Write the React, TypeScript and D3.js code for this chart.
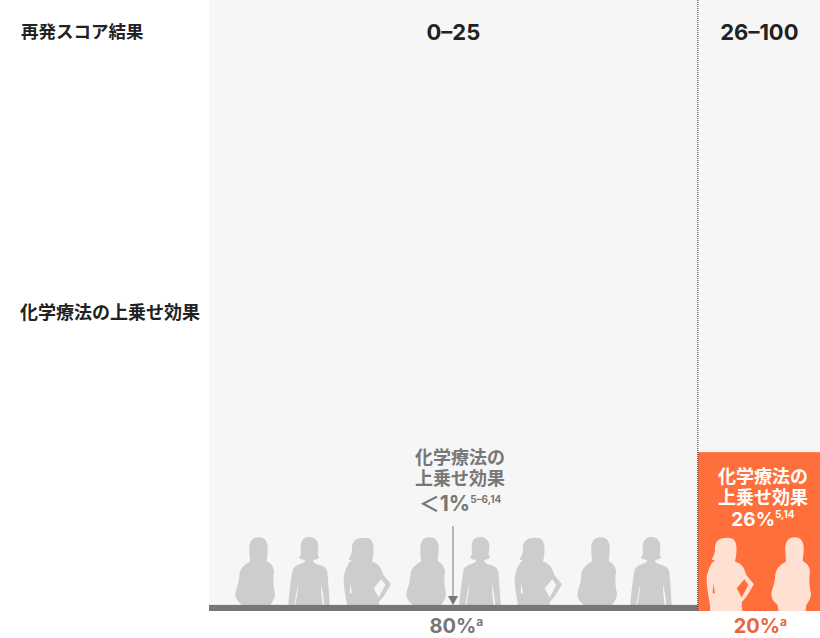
import React from 'react';
import * as d3 from 'd3';

const WIDTH = 820;
const HEIGHT = 638;

// recurrence score groups
const scoreGroups = ['0–25', '26–100'];
const patientShare = [80, 20];
const chemoBenefit = [1, 26];
const shareLabels = ['80%', '20%'];
const benefitValueLabels = ['＜1%', '26%'];
const benefitRefs = ['5–6,14', '5,14'];
const benefitLines = ['化学療法の', '上乗せ効果'];
const rowLabels = ['再発スコア結果', '化学療法の上乗せ効果'];

const leftPeople = ['heavy', 'bob', 'hip', 'heavy', 'bob', 'hip', 'heavy', 'bob'];
const rightPeople = ['hip', 'heavy'];

// silhouettes, origin at feet centre, drawn at 3x and scaled down
const silhouettes: Record<string, string> = {
  heavy:
    'M-38,18 L-40,0 C-52,-10 -59,-20 -59,-33 C-57,-50 -49,-60 -47,-90 C-45,-110 -32,-120 -15,-130 L-17,-160 C-19,-185 -12,-203 11,-203 C33,-203 40,-185 38,-160 L35,-132 C48,-125 56,-115 57,-100 C55,-80 53,-65 60,-35 C60,-20 53,-10 46,0 L44,18 Z',
  bob:
    'M-62,18 L-62,0 C-60,-30 -55,-70 -50,-100 C-48,-112 -40,-118 -22,-124 L-14,-128 L-12,-135 C-20,-135 -28,-137 -30,-142 C-20,-150 -26,-168 -25,-178 C-24,-195 -14,-204 1,-204 C16,-204 27,-195 28,-178 C29,-165 22,-150 31,-142 C25,-137 18,-135 12,-135 L14,-128 L24,-122 C42,-118 52,-112 55,-100 C58,-70 60,-30 62,0 L62,18 L50,18 L46,0 C44,-20 42,-40 36,-62 C36,-30 40,-10 44,18 L-44,18 C-40,-10 -34,-30 -32,-62 C-38,-40 -40,-20 -44,0 L-48,18 Z',
  hip:
    'M-60,18 L-60,0 C-62,-15 -68,-40 -70,-70 C-70,-90 -66,-105 -55,-125 L-45,-135 L-55,-135 C-50,-145 -48,-150 -45,-160 C-45,-170 -47,-185 -35,-195 C-25,-202 -5,-203 5,-200 C20,-195 22,-170 18,-145 L15,-130 C30,-125 42,-115 45,-100 L50,-88 L72,-62 L50,-25 L35,-8 L37,18 Z M20,-50 L43,-77 L55,-60 L35,-22 Z M-50,-65 L-45,-35 L-52,-35 Z',
};

const nudge: Record<string, number> = { heavy: 0, bob: -3, hip: -2 };

const FONT = "'Noto Sans CJK JP', sans-serif";
const NUM_FONT = "Inter, 'Noto Sans CJK JP', sans-serif";

export default function App() {
  const cum = d3.cumsum(patientShare);
  const x = d3.scaleLinear().domain([0, 100]).range([209, WIDTH]);
  const y = d3.scaleLinear().domain([0, 100]).range([611, 0]);

  const leftSlot = d3.scaleLinear().domain([0, 7]).range([255, 654]);
  const rightSlot = d3.scaleLinear().domain([0, 1]).range([730, 791]);

  const split = x(cum[0]);
  const centers = [x(cum[0] / 2), (split + WIDTH) / 2 + 0.5];

  return (
    <svg
      width={WIDTH}
      height={HEIGHT}
      viewBox={`0 0 ${WIDTH} ${HEIGHT}`}
      style={{ position: 'absolute', left: 0, top: 0, background: '#fff' }}
    >
      <rect x={x(0)} y={0} width={x(100) - x(0)} height={y(chemoBenefit[0])} fill="#f6f6f6" />
      <rect
        x={split}
        y={y(chemoBenefit[1])}
        width={WIDTH - split}
        height={y(0) - y(chemoBenefit[1])}
        fill="#ff6f3b"
      />

      {leftPeople.map((p, i) => (
        <path
          key={i}
          d={silhouettes[p]}
          fill="#cdcdcc"
          fillRule="evenodd"
          transform={`translate(${leftSlot(i) + nudge[p]},${y(chemoBenefit[0])}) scale(${1 / 3})`}
        />
      ))}
      {rightPeople.map((p, i) => (
        <path
          key={i}
          d={silhouettes[p]}
          fill="#ffe0d3"
          fillRule="evenodd"
          transform={`translate(${rightSlot(i)},${y(chemoBenefit[0])}) scale(${1 / 3})`}
        />
      ))}

      <rect x={x(0)} y={y(chemoBenefit[0])} width={split - x(0)} height={y(0) - y(chemoBenefit[0])} fill="#777777" />

      <line x1={split} x2={split} y1={0} y2={y(0)} stroke="#333" strokeWidth={1} strokeDasharray="1 1" />

      {/* arrow */}
      <line x1={453} x2={453} y1={526} y2={598} stroke="#777" strokeWidth={1} />
      <path d="M448,596 L458,596 L453,605 Z" fill="#777" />

      {/* row labels */}
      <text x={21} y={38} fontFamily={FONT} fontWeight={700} fontSize={17.5} fill="#222">
        {rowLabels[0]}
      </text>
      <text x={20} y={319} fontFamily={FONT} fontWeight={700} fontSize={18} fill="#222">
        {rowLabels[1]}
      </text>

      {/* group headers */}
      {scoreGroups.map((g, i) => (
        <text key={g} x={centers[i]} y={40} textAnchor="middle" fontFamily={NUM_FONT} fontWeight={700} fontSize={22} fill="#222">
          {g}
        </text>
      ))}

      {/* benefit callouts */}
      <text textAnchor="middle" fontFamily={FONT} fontWeight={700} fontSize={18} fill="#777">
        {benefitLines.map((t, i) => (
          <tspan key={t} x={460} y={464 + i * 21}>{t}</tspan>
        ))}
        <tspan x={460} y={511} fontFamily={NUM_FONT} fontSize={21}>{benefitValueLabels[0]}</tspan>
        <tspan fontSize={10} dy={-8} fontFamily={NUM_FONT}>{benefitRefs[0]}</tspan>
      </text>

      <text textAnchor="middle" fontFamily={FONT} fontWeight={700} fontSize={18} fill="#fff">
        {benefitLines.map((t, i) => (
          <tspan key={t} x={763} y={483 + i * 21}>{t}</tspan>
        ))}
        <tspan x={763} y={526} fontFamily={NUM_FONT} fontSize={19}>{benefitValueLabels[1]}</tspan>
        <tspan fontSize={10} dy={-8} fontFamily={NUM_FONT}>{benefitRefs[1]}</tspan>
      </text>

      {/* share labels */}
      {shareLabels.map((t, i) => (
        <text
          key={t}
          x={centers[i] + (i === 0 ? 3 : 1)}
          y={633}
          textAnchor="middle"
          fontFamily={NUM_FONT}
          fontWeight={700}
          fontSize={20}
          fill={i === 0 ? '#777' : '#e8663a'}
        >
          {t}
          <tspan fontSize={12} dy={-7}>a</tspan>
        </text>
      ))}
    </svg>
  );
}
